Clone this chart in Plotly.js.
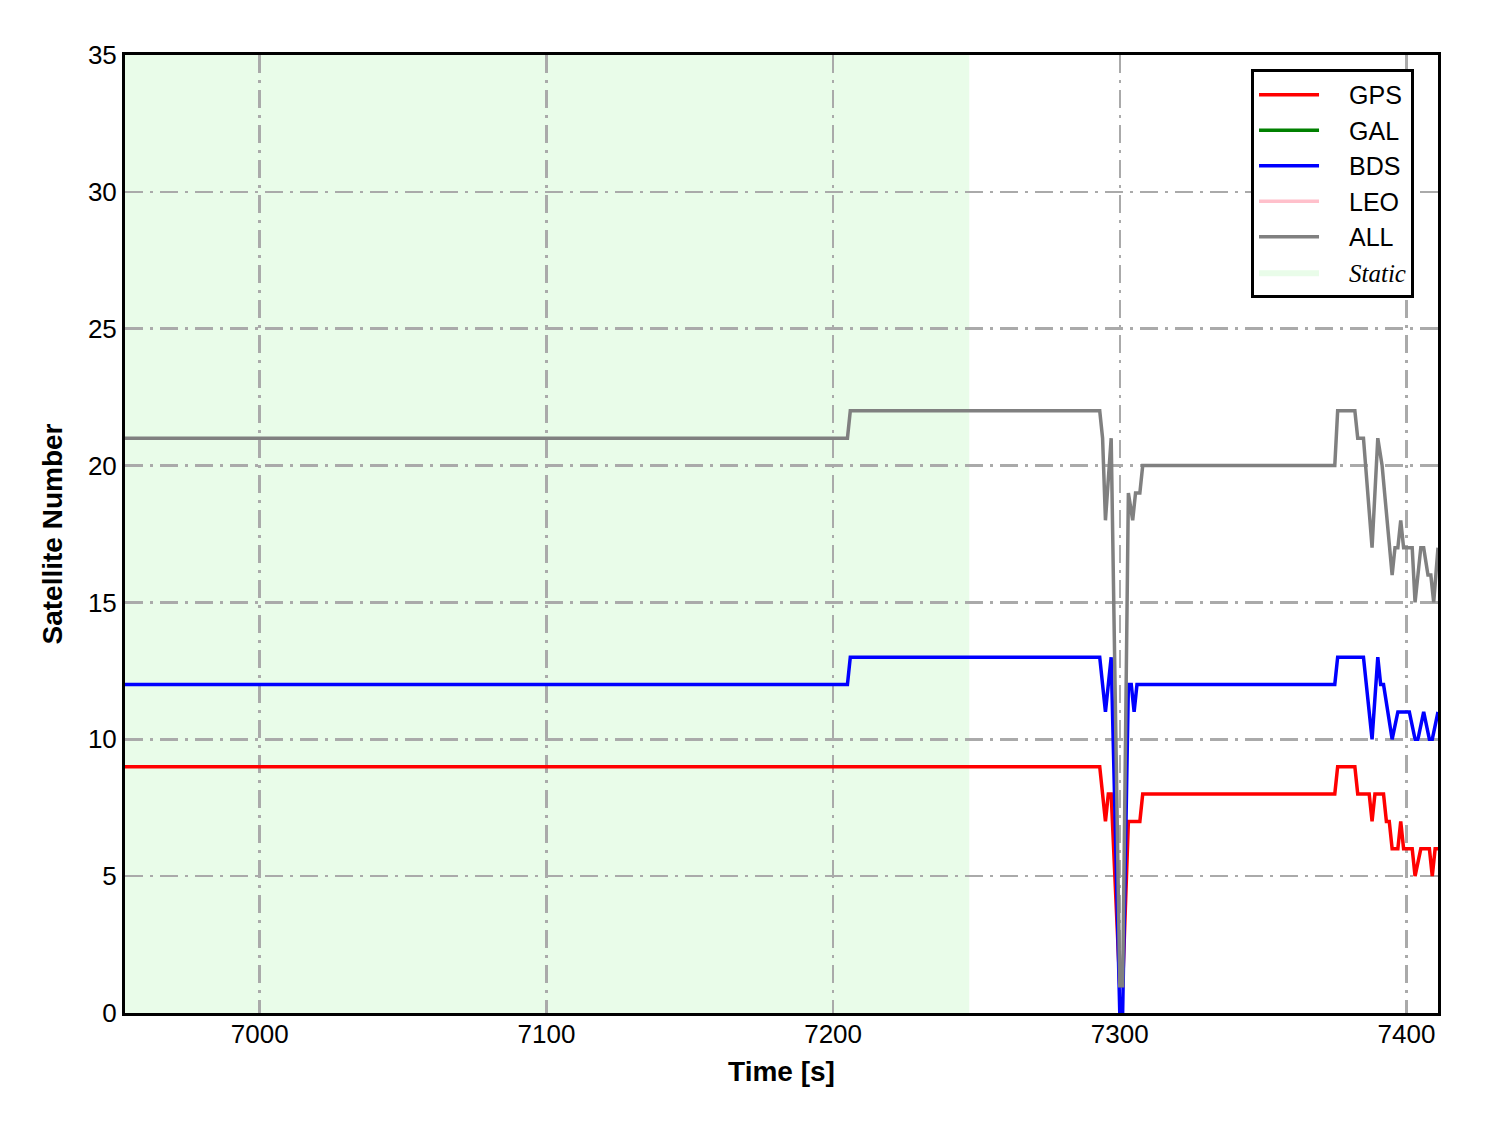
<!DOCTYPE html>
<html>
<head>
<meta charset="utf-8">
<script src="https://cdn.plot.ly/plotly-3.0.1.min.js"></script>
<style>html,body{margin:0;padding:0;background:#fff;}</style>
</head>
<body>
<div id="chart" style="width:1488px;height:1133px;"></div>
<script>
// ---- data ----
const xRange = [6953, 7411];
const staticStart = 6953;
const staticEnd = 7247.5;

const gpsT = [6953, 7293, 7295, 7296, 7297, 7300, 7301, 7303, 7307, 7308, 7375, 7376, 7382, 7383, 7387, 7388, 7389, 7392, 7393, 7394, 7395, 7397, 7398, 7399, 7402, 7403, 7405, 7408, 7409, 7410, 7411];
const gpsV = [9, 9, 7, 8, 8, 1, 1, 7, 7, 8, 8, 9, 9, 8, 8, 7, 8, 8, 7, 7, 6, 6, 7, 6, 6, 5, 6, 6, 5, 6, 6];

const bdsT = [6953, 7205, 7206, 7293, 7295, 7297, 7300, 7301, 7303, 7304, 7305, 7306, 7375, 7376, 7385, 7388, 7390, 7391, 7392, 7395, 7397, 7401, 7403, 7404, 7406, 7408, 7409, 7411];
const bdsV = [12, 12, 13, 13, 11, 13, 0, 0, 12, 12, 11, 12, 12, 13, 13, 10, 13, 12, 12, 10, 11, 11, 10, 10, 11, 10, 10, 11];

const allT = [6953, 7205, 7206, 7293, 7294, 7295, 7297, 7300, 7301, 7303, 7304.5, 7305.5, 7307, 7308, 7375, 7376, 7382, 7383, 7385, 7388, 7390, 7391.5, 7395, 7396, 7397, 7398, 7399, 7402, 7403, 7405, 7406, 7407.5, 7408.5, 7409.5, 7411];
const allV = [21, 21, 22, 22, 21, 18, 21, 1, 1, 19, 18, 19, 19, 20, 20, 22, 22, 21, 21, 17, 21, 20, 16, 17, 17, 18, 17, 17, 15, 17, 17, 16, 16, 15, 17];

// GAL and LEO: listed in the legend, no visible samples in the plot
const galT = [null];
const galV = [null];
const leoT = [null];
const leoV = [null];

const xTicks = [7000, 7100, 7200, 7300, 7400];
const yTicks = [0, 5, 10, 15, 20, 25, 30, 35];

// ---- chart ----
const font = 'Liberation Sans, Arial, sans-serif';
const lw = 3.5;
const sp = '\u2003';
const traces = [
  {x: gpsT, y: gpsV, name: sp + 'GPS', mode: 'lines', line: {color: '#ff0000', width: lw}},
  {x: galT, y: galV, name: sp + 'GAL', mode: 'lines', line: {color: '#008000', width: lw}, showlegend: true},
  {x: bdsT, y: bdsV, name: sp + 'BDS', mode: 'lines', line: {color: '#0000ff', width: lw}},
  {x: leoT, y: leoV, name: sp + 'LEO', mode: 'lines', line: {color: '#ffc0cb', width: lw}, showlegend: true},
  {x: allT, y: allV, name: sp + 'ALL', mode: 'lines', line: {color: '#808080', width: lw}},
  {x: [null], y: [null], mode: 'lines', fill: 'toself', fillcolor: '#e9fce9', line: {width: 0, color: '#e9fce9'},
   showlegend: true,
   name: sp + '<span style="font-family:Liberation Serif, Times New Roman, serif;font-style:italic">Static</span>'}
];

const axisCommon = {
  showline: true, mirror: true, linecolor: '#000', linewidth: 3,
  showgrid: true, gridcolor: '#aaaaaa', gridwidth: 2.5, griddash: '18px,7px,3px,7px',
  zeroline: false,
  ticks: '',
  tickfont: {family: font, size: 26, color: '#000'}
};

const layout = {
  width: 1488, height: 1133,
  margin: {l: 125, r: 50, t: 55, b: 120},
  paper_bgcolor: '#fff', plot_bgcolor: '#fff',
  showlegend: true,
  xaxis: Object.assign({}, axisCommon, {
    range: xRange, tickvals: xTicks, ticktext: xTicks.map(String),
    ticklabelstandoff: -4,
    title: {text: '<b>Time [s]</b>', font: {family: font, size: 28, color: '#000'}, standoff: 14}
  }),
  yaxis: Object.assign({}, axisCommon, {
    range: [0, 35], tickvals: yTicks, ticktext: yTicks.map(String),
    title: {text: '<b>Satellite Number</b>', font: {family: font, size: 28, color: '#000'}, standoff: 18}
  }),
  legend: {
    x: 0.8576, y: 0.9854, xanchor: 'left', yanchor: 'top',
    bgcolor: '#fff', bordercolor: '#000', borderwidth: 3,
    font: {family: font, size: 25, color: '#000'},
    itemwidth: 60,
    tracegroupgap: 0
  },
  shapes: [{
    type: 'rect', xref: 'x', yref: 'y',
    x0: staticStart, x1: staticEnd, y0: 0, y1: 35,
    fillcolor: '#e9fce9', line: {width: 0}, layer: 'below'
  }]
};

Plotly.newPlot('chart', traces, layout, {displayModeBar: false, staticPlot: true});
</script>
</body>
</html>
